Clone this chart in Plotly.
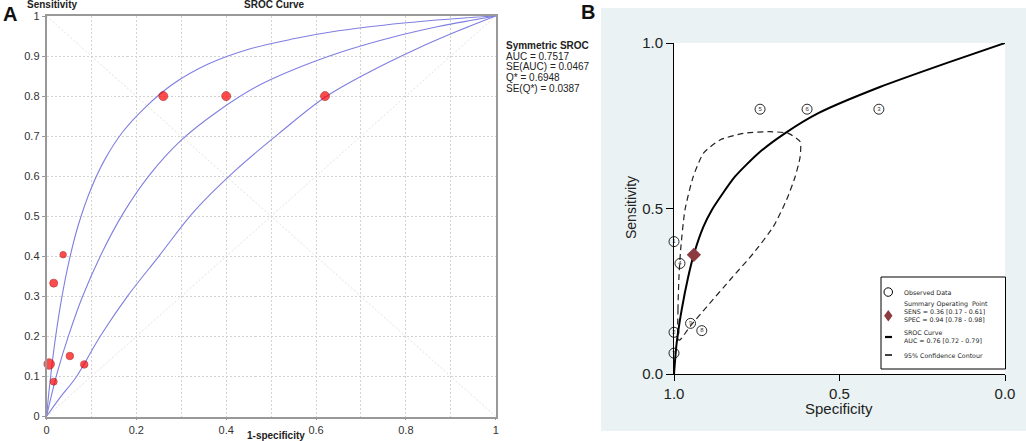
import plotly.graph_objects as go

W, H = 1026, 441


def px(x):
    return x / W


def py(y):
    return 1 - y / H


# ---------------- Panel A data (Meta-DiSc style SROC) ----------------
a_fpr = [0.260, 0.400, 0.620, 0.037, 0.016, 0.006, 0.052, 0.084, 0.016]
a_sens = [0.800, 0.800, 0.800, 0.404, 0.333, 0.131, 0.151, 0.130, 0.087]
a_weight = [9, 9, 9, 6.5, 8, 10.5, 7.5, 7.5, 7]

curve1_fpr = [0, 0.005, 0.01, 0.02, 0.035, 0.05, 0.07, 0.1, 0.13, 0.17, 0.22, 0.28, 0.36, 0.45,
              0.55, 0.65, 0.75, 0.85, 0.93, 1]
curve1_sens = [0, 0.057, 0.108, 0.197, 0.303, 0.387, 0.475, 0.571, 0.642, 0.711, 0.772, 0.829, 0.880,
               0.917, 0.943, 0.963, 0.977, 0.988, 0.995, 1]
curve2_fpr = [0, 0.01, 0.025, 0.05, 0.08, 0.12, 0.17, 0.23, 0.3, 0.38, 0.47, 0.57, 0.67, 0.77, 0.87,
              0.95, 1]
curve2_sens = [0, 0.048, 0.114, 0.205, 0.299, 0.401, 0.506, 0.604, 0.690, 0.761, 0.825, 0.875, 0.915,
               0.947, 0.973, 0.990, 1]
curve3_fpr = [0, 0.03, 0.067, 0.12, 0.18, 0.25, 0.33, 0.42, 0.52, 0.62, 0.72, 0.82, 0.91, 1]
curve3_sens = [0, 0.047, 0.1, 0.201, 0.300, 0.400, 0.514, 0.614, 0.709, 0.797, 0.861, 0.916, 0.960, 1]

a_stats = ["AUC = 0.7517", "SE(AUC) = 0.0467", "Q* = 0.6948", "SE(Q*) = 0.0387"]

# ---------------- Panel B data (HSROC style) ----------------
b_spec = [0.74, 0.598, 0.381, 1.0, 0.982, 0.950, 0.916, 1.0, 1.0]
b_sens = [0.80, 0.80, 0.80, 0.40, 0.334, 0.153, 0.131, 0.126, 0.063]
b_label = ["5", "6", "3", "1", "4", "9", "8", "2", "7"]

summary_spec = [0.94]
summary_sens = [0.36]

sroc_fpr = [0, 0.008, 0.023, 0.043, 0.061, 0.089, 0.114, 0.184, 0.255, 0.335, 0.436, 0.622, 0.825, 1.0]
sroc_sens = [0, 0.093, 0.193, 0.294, 0.365, 0.445, 0.495, 0.596, 0.667, 0.727, 0.788, 0.867, 0.94, 1.0]

contour_fpr = [0.013, 0.012, 0.015, 0.020, 0.033, 0.058, 0.089, 0.139, 0.209, 0.290, 0.345, 0.381,
               0.381, 0.366, 0.340, 0.300, 0.240, 0.169, 0.099, 0.048, 0.018, 0.013]
contour_sens = [0.103, 0.193, 0.294, 0.375, 0.495, 0.596, 0.667, 0.707, 0.727, 0.732, 0.727, 0.702,
                0.656, 0.596, 0.526, 0.445, 0.365, 0.284, 0.203, 0.143, 0.103, 0.103]

legend_blocks = [
    (["Observed Data"], 292),
    (["Summary Operating  Point", "SENS = 0.36 [0.17 - 0.61]", "SPEC = 0.94 [0.78 - 0.98]"], 311),
    (["SROC Curve", "AUC = 0.76 [0.72 - 0.79]"], 336),
    (["95% Confidence Contour"], 355),
]

FONT = "Liberation Sans, Arial, sans-serif"
CURVE_COL = "#7f7fe0"
GRID_COL = "#d2d2d2"

fig = go.Figure()

# Panel A curves
for cx, cy in [(curve1_fpr, curve1_sens), (curve2_fpr, curve2_sens), (curve3_fpr, curve3_sens)]:
    fig.add_trace(go.Scatter(x=cx, y=cy, mode="lines", xaxis="x", yaxis="y",
                             line=dict(color=CURVE_COL, width=1.1, shape="spline", smoothing=1.0),
                             hoverinfo="skip", showlegend=False))

fig.add_trace(go.Scatter(x=a_fpr, y=a_sens, mode="markers", xaxis="x", yaxis="y",
                         marker=dict(color="#ff0000", size=a_weight,
                                     line=dict(color="#a00000", width=0.8)),
                         cliponaxis=False, showlegend=False))

# Panel B traces
b_sroc_spec = [1 - v for v in sroc_fpr]
b_cont_spec = [1 - v for v in contour_fpr]
fig.add_trace(go.Scatter(x=b_cont_spec, y=contour_sens, mode="lines", xaxis="x2", yaxis="y2",
                         line=dict(color="#222", width=1.2, dash="6px,4px", shape="spline", smoothing=0.6),
                         cliponaxis=False, showlegend=False))
fig.add_trace(go.Scatter(x=b_sroc_spec, y=sroc_sens, mode="lines", xaxis="x2", yaxis="y2",
                         line=dict(color="#000", width=2, shape="spline", smoothing=0.6),
                         cliponaxis=False, showlegend=False))
fig.add_trace(go.Scatter(x=b_spec, y=b_sens, mode="markers+text", xaxis="x2", yaxis="y2",
                         text=b_label, textposition="middle center",
                         textfont=dict(size=6, color="#333", family=FONT),
                         marker=dict(symbol="circle-open", size=10, color="#111",
                                     line=dict(width=0.9, color="#111")),
                         cliponaxis=False, showlegend=False))
fig.add_trace(go.Scatter(x=summary_spec, y=summary_sens, mode="markers", xaxis="x2", yaxis="y2",
                         marker=dict(symbol="diamond", size=11, color="#8c3b40"),
                         cliponaxis=False, showlegend=False))

shapes = []
# Panel B background
shapes.append(dict(type="rect", xref="paper", yref="paper", x0=px(601), x1=px(1026),
                   y0=py(431), y1=py(8), fillcolor="#eaf2f3", line=dict(width=0), layer="below"))
shapes.append(dict(type="rect", xref="paper", yref="paper", x0=px(673), x1=px(1005),
                   y0=py(374), y1=py(43), fillcolor="#ffffff", line=dict(width=0), layer="below"))
# Panel A diagonals
shapes.append(dict(type="line", xref="x", yref="y", x0=0, y0=0, x1=1, y1=1,
                   line=dict(color="#e0e0e0", width=1, dash="2px,2px"), layer="below"))
shapes.append(dict(type="line", xref="x", yref="y", x0=0, y0=1, x1=1, y1=0,
                   line=dict(color="#e0e0e0", width=1, dash="2px,2px"), layer="below"))
# Panel B legend
shapes.append(dict(type="rect", xref="paper", yref="paper", x0=px(881), x1=px(1005.5),
                   y0=py(369), y1=py(277), fillcolor="#ffffff", line=dict(color="#000", width=1)))
shapes.append(dict(type="circle", xref="paper", yref="paper", x0=px(884), x1=px(892.5),
                   y0=py(296.3), y1=py(287.8), line=dict(color="#000", width=1)))
shapes.append(dict(type="path", xref="paper", yref="paper",
                   path="M {a},{b} L {c},{d} L {a},{e} L {f},{d} Z".format(
                       a=px(888.3), b=py(310), c=px(892.5), d=py(315.7), e=py(321.4), f=px(884.1)),
                   fillcolor="#8c3b40", line=dict(width=0)))
shapes.append(dict(type="line", xref="paper", yref="paper", x0=px(885), x1=px(892),
                   y0=py(337), y1=py(337), line=dict(color="#000", width=2.2)))
shapes.append(dict(type="line", xref="paper", yref="paper", x0=px(885), x1=px(892),
                   y0=py(355), y1=py(355), line=dict(color="#000", width=1.5)))

ann = []


def add_text(text, x, y, size, bold=False, xanchor="center", color="#222", angle=0, family=FONT):
    ann.append(dict(text=("<b>%s</b>" % text) if bold else text, x=px(x), y=py(y),
                    xref="paper", yref="paper", showarrow=False, xanchor=xanchor, yanchor="middle",
                    align="left", textangle=angle, borderpad=0,
                    font=dict(size=size, color=color, family=family)))


add_text("A", 10, 14, 20, bold=True, color="#111")
add_text("B", 588, 12, 20, bold=True, color="#111")
add_text("Sensitivity", 52, 5, 10, bold=True)
add_text("SROC Curve", 274, 5, 10, bold=True)
add_text("1-specificity", 276, 435, 10, bold=True)
add_text("Symmetric SROC", 505, 45, 10, bold=True, xanchor="left")
for i, s in enumerate(a_stats):
    add_text(s, 505, 56 + i * 11, 10, xanchor="left")

add_text("Sensitivity", 631, 208, 14, angle=-90)
add_text("Specificity", 839, 408, 15)

for lines, yy in legend_blocks:
    add_text("<br>".join(lines), 903, yy, 6.3, xanchor="left", color="#222",
             family="DejaVu Sans, sans-serif")

axis_common = dict(automargin=False, zeroline=False)

fig.update_layout(
    width=W, height=H, margin=dict(l=0, r=0, t=0, b=0, pad=0, autoexpand=False),
    paper_bgcolor="#ffffff", plot_bgcolor="rgba(0,0,0,0)",
    font=dict(family=FONT, color="#333"),
    shapes=shapes, annotations=ann, showlegend=False,
    xaxis=dict(domain=[px(46.5), px(495.7)], range=[0, 1], anchor="y",
               tickvals=[0, 0.2, 0.4, 0.6, 0.8, 1], ticktext=["0", "0.2", "0.4", "0.6", "0.8", "1"],
               showgrid=True, gridcolor=GRID_COL, griddash="2px,2px", gridwidth=1,
               minor=dict(dtick=0.1, showgrid=True, gridcolor=GRID_COL, griddash="2px,2px"),
               showline=True, linecolor="#999", linewidth=1.6, mirror=True,
               ticks="outside", ticklen=2, tickcolor="#999",
               tickfont=dict(size=11, color="#333"), **axis_common),
    yaxis=dict(domain=[py(416.5), py(16)], range=[0, 1], anchor="x",
               tickvals=[0, 0.1, 0.2, 0.3, 0.4, 0.5, 0.6, 0.7, 0.8, 0.9, 1],
               ticktext=["0", "0.1", "0.2", "0.3", "0.4", "0.5", "0.6", "0.7", "0.8", "0.9", "1"],
               showgrid=True, gridcolor=GRID_COL, griddash="2px,2px", gridwidth=1,
               showline=True, linecolor="#999", linewidth=1.6, mirror=True,
               ticks="outside", ticklen=3, tickcolor="#999",
               tickfont=dict(size=11, color="#333"), **axis_common),
    xaxis2=dict(domain=[px(674), px(1005)], range=[1, 0], anchor="y2",
                tickvals=[1, 0.5, 0], ticktext=["1.0", "0.5", "0.0"],
                showgrid=False, showline=True, linecolor="#000", linewidth=1,
                ticks="outside", ticklen=6, tickcolor="#000",
                tickfont=dict(size=15, color="#222"), **axis_common),
    yaxis2=dict(domain=[py(374), py(43)], range=[0, 1], anchor="x2",
                tickvals=[0, 0.5, 1], ticktext=["0.0", "0.5", "1.0"],
                showgrid=False, showline=True, linecolor="#000", linewidth=1,
                ticks="outside", ticklen=7, tickcolor="#000",
                tickfont=dict(size=15, color="#222"), **axis_common),
)

fig.write_html("out.html", config={"displayModeBar": False},
               post_script="document.body.style.margin='0';document.body.style.padding='0';"
                           "document.body.style.overflow='hidden';")
